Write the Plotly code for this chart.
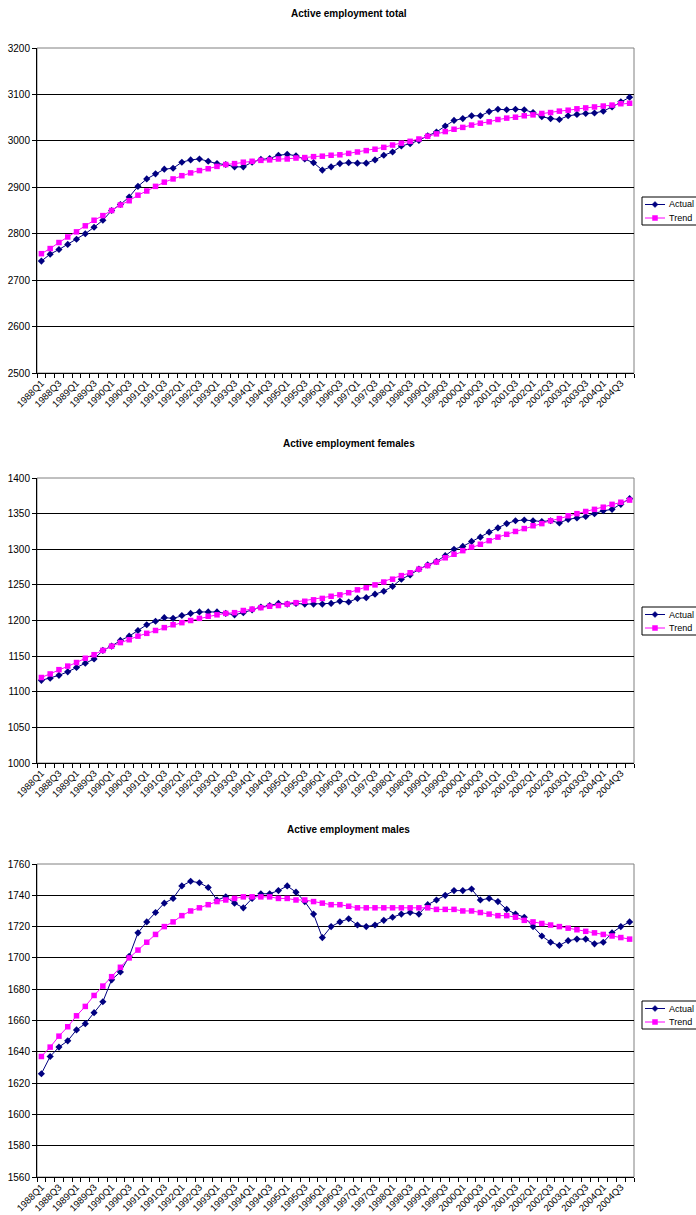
import plotly.graph_objects as go

NAVY = '#000080'
MAGENTA = '#FF00FF'
FONT = 'Arial, Liberation Sans, sans-serif'

QUARTERS = [f'{y}Q{q}' for y in range(1988, 2005) for q in range(1, 5)]

TOTAL_ACTUAL = [
    2741, 2756, 2766, 2777, 2788, 2800, 2814, 2829, 2850, 2863, 2879,
    2902, 2918, 2929, 2939, 2941, 2954, 2959, 2961, 2956, 2951, 2949, 2944,
    2944, 2954, 2960, 2962, 2969, 2971, 2968, 2961, 2953, 2937, 2944, 2951,
    2953, 2952, 2952, 2959, 2969, 2976, 2989, 2994, 3001, 3011, 3019, 3032,
    3044, 3048, 3054, 3054, 3063, 3068, 3067, 3068, 3067, 3061, 3052, 3048,
    3046, 3054, 3057, 3059, 3060, 3064, 3073, 3084, 3094,
]
TOTAL_TREND = [
    2757, 2768, 2781, 2793, 2804, 2817, 2829, 2839, 2850, 2862, 2871,
    2883, 2892, 2902, 2911, 2918, 2925, 2931, 2936, 2940, 2945, 2949, 2951,
    2954, 2956, 2958, 2959, 2961, 2961, 2963, 2964, 2966, 2967, 2969, 2970,
    2973, 2976, 2979, 2982, 2986, 2991, 2995, 2999, 3004, 3010, 3015, 3020,
    3025, 3029, 3034, 3038, 3041, 3046, 3049, 3051, 3054, 3056, 3059, 3061,
    3064, 3066, 3069, 3071, 3073, 3075, 3077, 3080, 3081,
]

FEMALE_ACTUAL = [
    1116, 1119, 1123, 1128, 1134, 1140, 1146, 1158, 1164, 1172, 1178,
    1186, 1194, 1199, 1204, 1203, 1207, 1210, 1212, 1212, 1212, 1210, 1208,
    1211, 1215, 1219, 1221, 1224, 1223, 1224, 1223, 1223, 1223, 1224, 1227,
    1226, 1231, 1232, 1237, 1241, 1248, 1258, 1264, 1272, 1278, 1283, 1291,
    1300, 1304, 1311, 1317, 1324, 1330, 1336, 1340, 1341, 1340, 1339, 1340,
    1337, 1342, 1344, 1346, 1350, 1354, 1356, 1363, 1371,
]
FEMALE_TREND = [
    1120, 1125, 1131, 1136, 1141, 1147, 1152, 1158, 1164, 1169, 1173,
    1178, 1182, 1186, 1190, 1194, 1197, 1200, 1203, 1206, 1208, 1210, 1211,
    1214, 1216, 1218, 1220, 1221, 1223, 1225, 1227, 1229, 1231, 1234, 1236,
    1239, 1243, 1246, 1250, 1254, 1258, 1263, 1267, 1272, 1277, 1282, 1288,
    1293, 1298, 1303, 1307, 1312, 1317, 1321, 1325, 1329, 1333, 1336, 1340,
    1343, 1347, 1350, 1353, 1356, 1359, 1363, 1366, 1369,
]

MALE_ACTUAL = [
    1626, 1637, 1643, 1647, 1654, 1658, 1665, 1672, 1686, 1691, 1701,
    1716, 1723, 1729, 1735, 1738, 1746, 1749, 1748, 1745, 1737, 1739, 1735,
    1732, 1738, 1741, 1741, 1743, 1746, 1742, 1736, 1728, 1713, 1720, 1723,
    1725, 1721, 1720, 1721, 1724, 1726, 1728, 1729, 1728, 1734, 1737, 1740,
    1743, 1743, 1744, 1737, 1738, 1736, 1731, 1728, 1726, 1720, 1714, 1710,
    1708, 1711, 1712, 1712, 1709, 1710, 1716, 1720, 1723,
]
MALE_TREND = [
    1637, 1643, 1650, 1656, 1663, 1669, 1676, 1682, 1688, 1694, 1700,
    1705, 1710, 1715, 1720, 1723, 1727, 1730, 1732, 1734, 1736, 1737, 1738,
    1739, 1739, 1739, 1739, 1738, 1738, 1737, 1737, 1736, 1735, 1734, 1734,
    1733, 1732, 1732, 1732, 1732, 1732, 1732, 1732, 1732, 1732, 1731, 1731,
    1731, 1730, 1730, 1729, 1728, 1727, 1727, 1726, 1724, 1723, 1722, 1721,
    1720, 1719, 1718, 1717, 1716, 1715, 1714, 1713, 1712,
]

W, H = 696, 1215
PANELS = [
    # title, actual, trend, y range, y step, top px, bottom px, legend top px
    ('Active employment total', TOTAL_ACTUAL, TOTAL_TREND, (2500, 3200), 100, 48, 373, 197),
    ('Active employment females', FEMALE_ACTUAL, FEMALE_TREND, (1000, 1400), 50, 478, 763, 607),
    ('Active employment males', MALE_ACTUAL, MALE_TREND, (1560, 1760), 20, 864, 1177, 1001),
]
X0, X1 = 37, 634

ticktext = [q if i % 2 == 0 else '' for i, q in enumerate(QUARTERS)]


def px(x, y):
    # pixel position -> paper fraction
    return x / W, 1 - y / H


def add_legend(fig, top):
    # Excel-style legend box, drawn by hand so it can sit tight to the right edge
    x0, y0 = px(642, top)
    x1, y1 = px(700, top + 28)
    fig.add_shape(type='rect', xref='paper', yref='paper', x0=x0, x1=x1, y0=y1, y1=y0,
                  line=dict(color='black', width=1), fillcolor='white')
    for row, (name, color, sym) in enumerate([('Actual', NAVY, 'diamond'), ('Trend', MAGENTA, 'square')]):
        yc = top + 7.5 + row * 13.5
        a, b = px(645, yc)
        c, _ = px(665, yc)
        fig.add_shape(type='line', xref='paper', yref='paper', x0=a, x1=c, y0=b, y1=b,
                      line=dict(color=color, width=1))
        if sym == 'diamond':
            pts = [px(655, yc - 3), px(658, yc), px(655, yc + 3), px(652, yc)]
            path = 'M ' + ' L '.join(f'{p[0]},{p[1]}' for p in pts) + ' Z'
            fig.add_shape(type='path', xref='paper', yref='paper', path=path,
                          line=dict(color=color, width=0.5), fillcolor=color)
        else:
            s0 = px(652.5, yc - 2.5)
            s1 = px(657.5, yc + 2.5)
            fig.add_shape(type='rect', xref='paper', yref='paper', x0=s0[0], x1=s1[0],
                          y0=s1[1], y1=s0[1], line=dict(color=color, width=0.5), fillcolor=color)
        tx, ty = px(667, yc)
        fig.add_annotation(text=name, x=tx, y=ty, xref='paper', yref='paper', showarrow=False,
                           xanchor='left', yanchor='middle', font=dict(size=9, color='black'))


fig = go.Figure()
layout = {}
for k, (title, actual, trend, yr, step, top, bot, leg_top) in enumerate(PANELS, start=1):
    sfx = '' if k == 1 else str(k)
    fig.add_trace(go.Scatter(
        x=QUARTERS, y=actual, name='Actual', mode='lines+markers',
        line=dict(color=NAVY, width=1), marker=dict(symbol='diamond', size=5.5, color=NAVY),
        xaxis='x' + sfx, yaxis='y' + sfx,
    ))
    fig.add_trace(go.Scatter(
        x=QUARTERS, y=trend, name='Trend', mode='lines+markers',
        line=dict(color=MAGENTA, width=1), marker=dict(symbol='square', size=5.5, color=MAGENTA),
        xaxis='x' + sfx, yaxis='y' + sfx,
    ))
    layout['xaxis' + sfx] = dict(
        domain=[X0 / W, X1 / W], anchor='y' + sfx, type='category',
        tickmode='array', tickvals=QUARTERS, ticktext=ticktext, tickangle=-45,
        tickson='boundaries', ticks='outside', ticklen=4, tickcolor='black',
        showline=True, linecolor='black', linewidth=1, showgrid=False,
        tickfont=dict(size=9.5, color='black'), automargin=False,
        range=[-0.5, len(QUARTERS) - 0.5],
    )
    layout['yaxis' + sfx] = dict(
        domain=[1 - bot / H, 1 - top / H], anchor='x' + sfx, range=list(yr), dtick=step,
        showline=True, linecolor='black', linewidth=1, ticks='outside', ticklen=4,
        tickcolor='black', gridcolor='black', gridwidth=1, zeroline=False,
        tickfont=dict(size=10, color='black'), automargin=False,
    )
    fig.add_annotation(
        text=f'<b>{title}</b>', x=349 / W, y=1 - (top - 35) / H, xref='paper', yref='paper',
        showarrow=False, font=dict(size=10, color='black'), xanchor='center', yanchor='middle',
    )
    fig.add_shape(
        type='rect', xref='x' + sfx + ' domain', yref='y' + sfx + ' domain',
        x0=0, x1=1, y0=0, y1=1, line=dict(color='#808080', width=1), layer='below',
    )
    add_legend(fig, leg_top)

fig.update_layout(
    **layout,
    width=W, height=H,
    font=dict(family=FONT, color='black'),
    paper_bgcolor='white', plot_bgcolor='white',
    margin=dict(l=0, r=0, t=0, b=0, autoexpand=False),
    showlegend=False,
)
# drop the default page margin so the figure fills the window exactly
fig.write_html(
    'out.html',
    config={'displayModeBar': False},
    post_script="document.body.style.margin='0';document.body.style.overflow='hidden';",
)
